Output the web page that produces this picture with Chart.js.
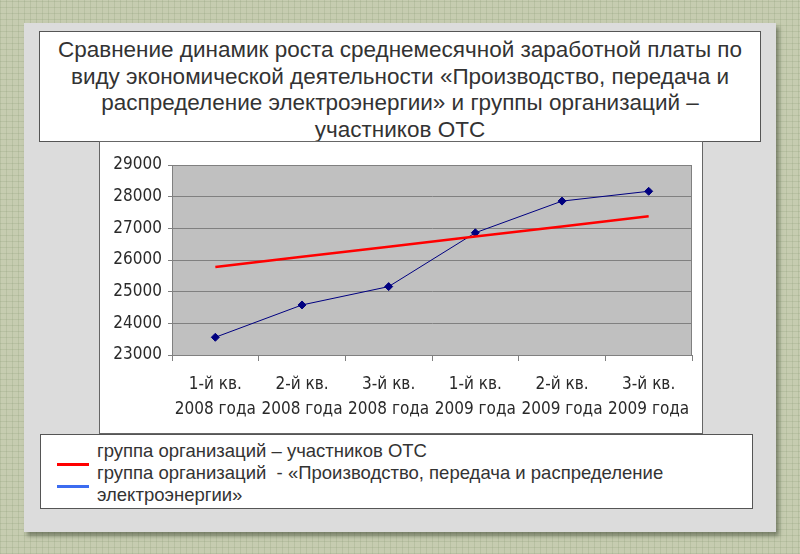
<!DOCTYPE html>
<html>
<head>
<meta charset="utf-8">
<script src="https://cdn.jsdelivr.net/npm/chart.js@4"></script>
<style>
  html, body { margin: 0; padding: 0; }
  body {
    width: 800px; height: 554px; position: relative; overflow: hidden;
    background-color: #c6ccb0;
    background-image:
      repeating-linear-gradient(0deg, rgba(120,140,100,0.18) 0 1px, transparent 1px 6px),
      repeating-linear-gradient(90deg, rgba(120,140,100,0.18) 0 1px, transparent 1px 6px);
    font-family: "Liberation Sans", Arial, sans-serif;
  }
  #frame {
    position: absolute; left: 24px; top: 23px; width: 752px; height: 509px;
    background: #dcdcdc;
    box-shadow: 3px 4px 4px rgba(60,70,50,0.55);
  }
  #title {
    position: absolute; left: 39px; top: 31px; width: 722px; height: 111px;
    background: #fff; border: 1px solid #555; box-sizing: border-box;
    text-align: center; color: #333; font-size: 22.5px; line-height: 26.5px;
    padding-top: 5px; white-space: nowrap;
  }
  #chartBox {
    position: absolute; left: 99px; top: 141px; width: 604px; height: 293px;
    background: #fff; border: 1px solid #666; box-sizing: border-box;
  }
  #chart { display: block; }
  #legend {
    position: absolute; left: 40px; top: 434px; width: 713px; height: 75px;
    background: #fff; border: 1px solid #555; box-sizing: border-box;
    color: #333; font-size: 18.5px; line-height: 22px;
  }
  #legend .txt { position: absolute; left: 56px; top: 5px; white-space: nowrap; }
  #legend .mark { position: absolute; left: 16px; width: 32px; height: 3px; }
</style>
</head>
<body>
<div id="frame"></div>
<div id="title">Сравнение динамик роста среднемесячной заработной платы по<br>виду экономической деятельности «Производство, передача и<br>распределение электроэнергии» и группы организаций –<br>участников ОТС</div>
<div id="chartBox"><canvas id="chart" width="602" height="291"></canvas></div>
<div id="legend">
  <div class="mark" style="top:28px;background:#ff0000;"></div>
  <div class="mark" style="top:50px;background:#3c6cf0;"></div>
  <div class="txt">группа организаций – участников ОТС<br>группа организаций&nbsp; - «Производство, передача и распределение<br>электроэнергии»</div>
</div>
<script>
const quarters = [
  ['1-й кв.', '2008 года'], ['2-й кв.', '2008 года'], ['3-й кв.', '2008 года'],
  ['1-й кв.', '2009 года'], ['2-й кв.', '2009 года'], ['3-й кв.', '2009 года']
];
const otsGroup = [25780, 26100, 26420, 26740, 27060, 27380];
const energySector = [23560, 24580, 25160, 26860, 27860, 28170];
const yTicks = [23000, 24000, 25000, 26000, 27000, 28000, 29000];

const tickFont = '"Liberation Sans Narrow", "DejaVu Sans Condensed", "Liberation Sans", sans-serif';

// серый фон области построения + рамка
const plotBg = {
  id: 'plotBg',
  beforeDraw(chart) {
    const a = chart.chartArea, ctx = chart.ctx;
    ctx.save();
    ctx.fillStyle = '#c0c0c0';
    ctx.fillRect(a.left, a.top, a.right - a.left, a.bottom - a.top);
    ctx.restore();
  },
  afterDatasetsDraw(chart) {
    const a = chart.chartArea, ctx = chart.ctx;
    ctx.save();
    ctx.strokeStyle = '#808080';
    ctx.lineWidth = 1;
    ctx.strokeRect(a.left + 0.5, a.top + 0.5, a.right - a.left - 1, a.bottom - a.top);
    ctx.restore();
  }
};

new Chart(document.getElementById('chart'), {
  type: 'line',
  data: {
    labels: quarters,
    datasets: [{
      label: 'группа организаций – участников ОТС',
      data: otsGroup,
      borderColor: '#ff0000',
      borderWidth: 2.5,
      pointRadius: 0,
      tension: 0
    }, {
      label: 'группа организаций - «Производство, передача и распределение электроэнергии»',
      data: energySector,
      borderColor: '#000080',
      backgroundColor: '#000080',
      borderWidth: 1,
      pointStyle: 'rectRot',
      pointRadius: 4,
      tension: 0
    }]
  },
  options: {
    responsive: false,
    animation: false,
    devicePixelRatio: 1,
    layout: { padding: { top: 23, right: 10, left: 0, bottom: 0 } },
    plugins: { legend: { display: false }, tooltip: { enabled: false } },
    scales: {
      x: {
        offset: true,
        grid: { offset: true, drawOnChartArea: false, color: '#808080', tickLength: 6 },
        border: { color: '#808080' },
        ticks: {
          color: '#2a2a2a',
          maxRotation: 0,
          autoSkip: false,
          padding: 11,
          font: { family: tickFont, size: 17, lineHeight: 1.48 }
        },
        afterFit(scale) { scale.height = 78; }
      },
      y: {
        min: 23000,
        max: 29000,
        afterBuildTicks(scale) { scale.ticks = yTicks.map(v => ({ value: v })); },
        grid: { color: '#808080', tickLength: 4 },
        border: { color: '#808080' },
        ticks: {
          color: '#2a2a2a',
          padding: 6,
          callback: v => String(v),
          font: { family: tickFont, size: 17 }
        },
        afterFit(scale) { scale.width = 72; }
      }
    }
  },
  plugins: [plotBg]
});
</script>
</body>
</html>
